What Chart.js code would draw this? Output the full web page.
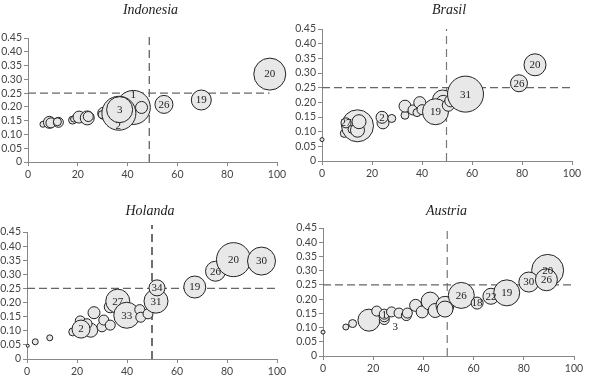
<!DOCTYPE html>
<html>
<head>
<meta charset="utf-8">
<script src="https://cdn.jsdelivr.net/npm/chart.js@4.4.0/dist/chart.umd.min.js"></script>
<style>
body{margin:0;background:#fff;}
#wrap{position:relative;width:591px;height:378px;overflow:hidden;background:#fff;}
canvas{position:absolute;}
</style>
</head>
<body>
<div id="wrap">
<canvas id="c1" width="295" height="190" style="left:0;top:0"></canvas>
<canvas id="c2" width="296" height="190" style="left:295px;top:0"></canvas>
<canvas id="c3" width="295" height="188" style="left:0;top:190px"></canvas>
<canvas id="c4" width="296" height="188" style="left:295px;top:190px"></canvas>
</div>
<script>
// tick values
const xTicks = [0, 20, 40, 60, 80, 100];
const yTicks = [0, 0.05, 0.10, 0.15, 0.20, 0.25, 0.30, 0.35, 0.40, 0.45];

// Indonesia
const indoX = [6, 8.6, 9.2, 12.2, 11.8, 17.9, 18.3, 20.5, 23.8, 24.2, 30.4, 29.8, 42.3, 36.5, 36.8, 36.2, 42.3, 45.6, 54.6, 69.6, 97.1];
const indoY = [0.137, 0.144, 0.142, 0.144, 0.146, 0.152, 0.156, 0.163, 0.16, 0.165, 0.177, 0.172, 0.198, 0.177, 0.19, 0.131, 0.243, 0.198, 0.209, 0.225, 0.319];
const indoR = [3, 6, 5, 5, 4, 4, 3, 6, 7, 5, 6, 4, 17, 17, 13, 0, 0, 6, 9, 10, 16];
const indoLbl = ['', '', '', '', '', '', '', '', '', '', '', '', '', '', '3', '2', '1', '', '26', '19', '20'];
const indoRefH = [0, 97];
const indoRefV = [48.7, 0.465];

// Brasil
const brX = [0, 8.9, 14.2, 9.6, 12, 14.2, 14.8, 24.4, 24, 27.9, 33.2, 33.2, 36.4, 38, 39.1, 40, 48.2, 48.5, 45.4, 50.5, 51.5, 57.4, 78.8, 85.2];
const brY = [0.073, 0.094, 0.12, 0.13, 0.108, 0.105, 0.134, 0.13, 0.149, 0.145, 0.156, 0.187, 0.174, 0.165, 0.199, 0.175, 0.208, 0.2, 0.168, 0.19, 0.205, 0.228, 0.265, 0.328];
const brR = [2, 4, 16, 5, 4, 7, 7, 6, 6, 4, 4, 6, 5, 4, 6, 5, 10, 7, 13, 6, 6, 18, 8.5, 11];
const brLbl = ['', '', '', '27', '', '', '', '', '2', '', '', '', '', '', '', '', '', '', '19', '', '', '31', '26', '20'];
const brRefH = [0, 100];
const brRefV = [49.8, 0.45];

// Holanda
const hoX = [0.3, 3.3, 9.1, 18.3, 21.3, 25.5, 24, 21.6, 26.8, 30, 30.7, 33.3, 33.3, 36.3, 39.9, 45.1, 45.5, 48.4, 51.6, 52, 67.1, 75.4, 82.6, 93.8];
const hoY = [0.047, 0.061, 0.075, 0.096, 0.135, 0.102, 0.125, 0.106, 0.164, 0.114, 0.138, 0.12, 0.185, 0.205, 0.155, 0.175, 0.148, 0.16, 0.205, 0.252, 0.255, 0.311, 0.352, 0.347];
const hoR = [1.5, 3, 3, 4, 5, 7, 5, 9, 6, 5, 5, 5, 6, 12, 13, 5, 5, 5, 12, 8, 11, 10, 17, 14];
const hoLbl = ['', '', '', '', '', '', '', '2', '', '', '', '', '', '27', '33', '', '', '', '31', '34', '19', '26', '20', '30'];
const hoRefH = [0, 100];
const hoRefV = [50, 0.475];

// Austria
const auX = [0, 9.1, 11.8, 18.3, 21.4, 24.4, 24.4, 24.4, 27.3, 28.8, 30.3, 33.2, 33.6, 36.9, 39.5, 42.7, 44.7, 48.6, 48.6, 55.1, 61.4, 66.9, 73.2, 89.5, 82, 89];
const auY = [0.084, 0.102, 0.114, 0.126, 0.158, 0.128, 0.138, 0.147, 0.155, 0.104, 0.151, 0.142, 0.151, 0.178, 0.155, 0.193, 0.16, 0.178, 0.165, 0.213, 0.186, 0.21, 0.222, 0.301, 0.26, 0.268];
const auR = [2, 3, 4, 11, 5, 5, 5, 5, 5, 0, 5, 5, 5, 6, 6, 9, 7, 9, 8, 13, 6, 8, 13, 16, 10, 11];
const auLbl = ['', '', '', '', '', '', '', '1', '', '3', '', '', '', '', '', '', '', '', '', '26', '18', '22', '19', '20', '30', '26'];
const auRefH = [0, 100];
const auRefV = [49.5, 0.45];

const bubbleText = {
  id: 'bubbleText',
  afterDatasetsDraw(chart) {
    const ctx = chart.ctx;
    chart.data.datasets.forEach((ds, di) => {
      if (!ds.tags) return;
      const meta = chart.getDatasetMeta(di);
      ctx.save();
      ctx.font = '11px "Liberation Serif"';
      ctx.fillStyle = '#222';
      ctx.textAlign = 'center';
      ctx.textBaseline = 'middle';
      meta.data.forEach((el, i) => {
        if (ds.tags[i]) ctx.fillText(ds.tags[i], el.x, el.y + 0.5);
      });
      ctx.restore();
    });
  }
};

const panelTitle = {
  id: 'panelTitle',
  afterDraw(chart, args, opts) {
    const ctx = chart.ctx;
    const a = chart.chartArea;
    ctx.save();
    ctx.font = 'italic 14px "Liberation Serif"';
    ctx.fillStyle = '#222';
    ctx.textAlign = 'center';
    ctx.textBaseline = 'middle';
    ctx.fillText(opts.text, (a.left + a.right) / 2 + opts.dx, opts.y);
    ctx.restore();
  }
};

function makeChart(id, title, xs, ys, rs, lbls, refH, refV, box, vColor) {
  const pts = xs.map((x, i) => ({ x: x, y: ys[i], r: rs[i] }));
  new Chart(document.getElementById(id), {
    type: 'bubble',
    data: {
      datasets: [
        {
          type: 'line',
          data: [{ x: refH[0], y: 0.25 }, { x: refH[1], y: 0.25 }],
          borderColor: '#666',
          borderWidth: 1.2,
          borderDash: [8, 4],
          pointRadius: 0,
          clip: false,
          order: 2
        },
        {
          type: 'line',
          data: [{ x: refV[0], y: 0 }, { x: refV[0], y: refV[1] }],
          borderColor: vColor,
          borderWidth: 1.2,
          borderDash: [8, 5],
          pointRadius: 0,
          clip: false,
          order: 2
        },
        {
          data: pts,
          tags: lbls,
          backgroundColor: '#e8e8e8',
          borderColor: '#222',
          borderWidth: 1,
          clip: false,
          order: 1
        }
      ]
    },
    options: {
      responsive: false,
      animation: false,
      devicePixelRatio: 1,
      layout: { padding: { left: 0, top: box.top, right: box.right, bottom: 0 } },
      plugins: {
        legend: { display: false },
        tooltip: { enabled: false },
        panelTitle: { text: title, y: box.titleY, dx: box.dx }
      },
      scales: {
        x: {
          type: 'linear',
          min: 0,
          max: 100,
          afterBuildTicks: s => { s.ticks = xTicks.map(v => ({ value: v })); },
          afterFit: s => { s.height = box.bottom; },
          border: { color: '#888', width: 1 },
          grid: { display: true, drawOnChartArea: false, tickLength: 4, color: '#888' },
          ticks: { color: '#444', font: { family: 'Lato', size: 10.5 }, padding: 2, maxRotation: 0, autoSkip: false }
        },
        y: {
          type: 'linear',
          min: 0,
          max: 0.45,
          afterBuildTicks: s => { s.ticks = yTicks.map(v => ({ value: v })); },
          afterFit: s => { s.width = box.left; },
          border: { color: '#888', width: 1 },
          grid: { display: true, drawOnChartArea: false, tickLength: 4, color: '#888' },
          ticks: {
            color: '#444',
            font: { family: 'Lato', size: 10.5 },
            padding: 2,
            autoSkip: false,
            callback: v => (v === 0 ? '0' : v.toFixed(2))
          }
        }
      }
    },
    plugins: [bubbleText, panelTitle]
  });
}

makeChart('c1', 'Indonesia', indoX, indoY, indoR, indoLbl, indoRefH, indoRefV,
  { left: 28, top: 38, right: 15, bottom: 28, titleY: 10, dx: -2 }, '#555');
makeChart('c2', 'Brasil', brX, brY, brR, brLbl, brRefH, brRefV,
  { left: 27, top: 29, right: 14, bottom: 29, titleY: 10, dx: 2 }, '#777');
makeChart('c3', 'Holanda', hoX, hoY, hoR, hoLbl, hoRefH, hoRefV,
  { left: 27, top: 42, right: 13, bottom: 19, titleY: 21, dx: -2 }, '#111');
makeChart('c4', 'Austria', auX, auY, auR, auLbl, auRefH, auRefV,
  { left: 28, top: 38, right: 13, bottom: 22, titleY: 21, dx: -2 }, '#777');
</script>
</body>
</html>
